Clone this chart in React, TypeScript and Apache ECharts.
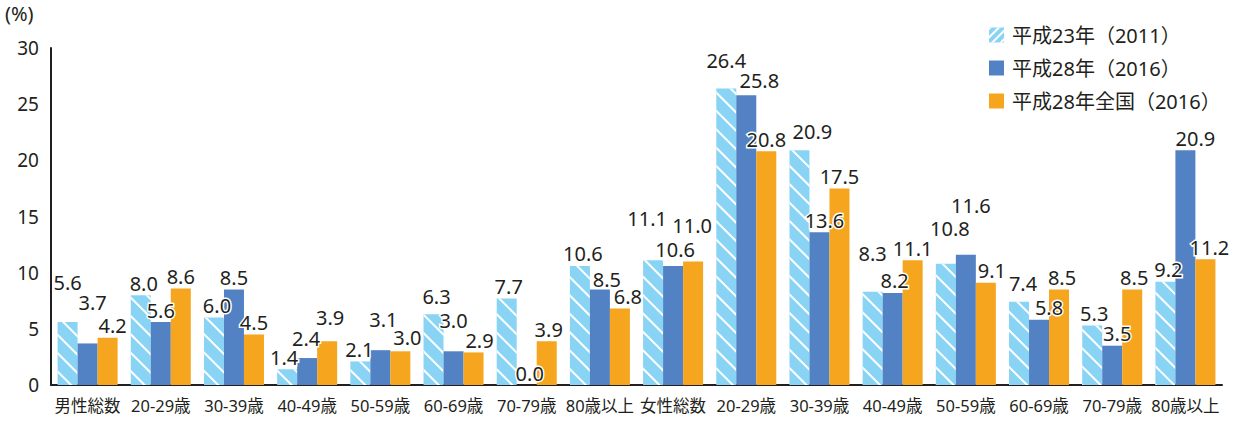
import React, { useEffect, useRef } from "react";
import * as echarts from "echarts";

const categories = [
  "男性総数", "20-29歳", "30-39歳", "40-49歳", "50-59歳", "60-69歳", "70-79歳", "80歳以上",
  "女性総数", "20-29歳", "30-39歳", "40-49歳", "50-59歳", "60-69歳", "70-79歳", "80歳以上",
];
const seriesNames = ["平成23年（2011）", "平成28年（2016）", "平成28年全国（2016）"];
const values2011 = [5.6, 8.0, 6.0, 1.4, 2.1, 6.3, 7.7, 10.6, 11.1, 26.4, 20.9, 8.3, 10.8, 7.4, 5.3, 9.2];
const values2016 = [3.7, 5.6, 8.5, 2.4, 3.1, 3.0, 0.0, 8.5, 10.6, 25.8, 13.6, 8.2, 11.6, 5.8, 3.5, 20.9];
const valuesNational = [4.2, 8.6, 4.5, 3.9, 3.0, 2.9, 3.9, 6.8, 11.0, 20.8, 17.5, 11.1, 9.1, 8.5, 8.5, 11.2];
const yTicks = [0, 5, 10, 15, 20, 25, 30];

// label nudges (style only), [dx, dy] per point, as placed in the reference
const labelNudge2011 = [[0, -28], [3, 0], [3, 0], [-3, 0], [-1, 0], [3, -6], [2, 0], [3, 0], [-6, -30], [0, -16], [13, -7], [0, -26], [4, -23], [4, -6], [2, 0], [3, 0]];
const labelNudge2016 = [[5, -29], [0, 0], [0, 0], [-1, -8], [3, -19], [0, -19], [3, 0], [7, 2], [2, -4], [13, -3], [5, 0], [2, 0], [5, -37], [10, 0], [5, 0], [10, 0]];
const labelNudgeNational = [[5, 0], [0, 0], [0, 0], [3, -12], [7, -2], [6, 0], [2, 0], [8, 0], [-1, -24], [0, 0], [0, 0], [0, 0], [6, 0], [3, 0], [2, 0], [4, 0]];

const FONT = "'Noto Sans', 'Noto Sans CJK JP', sans-serif";
const TEXT = "#231f20";
const colors = ["#89d4f5", "#5282c4", "#f6a51e"];

export default function App() {
  const ref = useRef<HTMLDivElement>(null);
  useEffect(() => {
    if (!ref.current) return;
    const chart = echarts.init(ref.current, undefined, { renderer: "svg" });
    const datasets = [values2011, values2016, valuesNational];
    const nudges = [labelNudge2011, labelNudge2016, labelNudgeNational];
    chart.setOption({
      animation: false,
      textStyle: { fontFamily: FONT },
      title: {
        text: "(%)",
        left: 3,
        top: 1,
        padding: 2,
        textStyle: { fontSize: 20, fontWeight: "normal", color: TEXT, fontFamily: FONT },
      },
      grid: { left: 51, right: 20, top: 48, bottom: 36, containLabel: false },
      legend: {
        orient: "vertical",
        left: 984,
        top: 20,
        itemWidth: 15,
        itemHeight: 15,
        itemGap: 13,
        icon: "rect",
        textStyle: { fontSize: 20, lineHeight: 20, color: TEXT, fontFamily: FONT, padding: [0, 0, 0, 3] },
        data: seriesNames.map((name, i) => ({
          name,
          itemStyle:
            i === 0
              ? {
                  color: colors[0],
                  decal: {
                    symbol: "rect",
                    color: "#ffffff",
                    dashArrayX: [1, 0],
                    dashArrayY: [1.2, 3.5],
                    rotation: -Math.PI / 4,
                    symbolSize: 1,
                  },
                }
              : undefined,
        })),
      },
      xAxis: {
        type: "category",
        data: categories,
        axisLine: { lineStyle: { color: TEXT, width: 2 } },
        axisTick: { show: false },
        axisLabel: { fontSize: 16.5, color: TEXT, margin: 12, fontFamily: FONT, interval: 0 },
      },
      yAxis: {
        type: "value",
        min: 0,
        max: 30,
        interval: 5,
        axisLine: { show: true, lineStyle: { color: TEXT, width: 2 } },
        axisTick: { show: false },
        splitLine: { show: false },
        axisLabel: {
          fontSize: 19,
          color: TEXT,
          margin: 12,
          fontFamily: FONT,
          formatter: (v: number) => (yTicks.includes(v) ? String(v) : ""),
        },
      },
      series: seriesNames.map((name, i) => ({
        name,
        type: "bar",
        barGap: "0%",
        barCategoryGap: "18%",
        data: datasets[i].map((v, j) => ({
          value: v,
          label: { offset: nudges[i][j] },
        })),
        itemStyle: {
          color: colors[i],
          ...(i === 0
            ? {
                decal: {
                  symbol: "rect",
                  color: "#ffffff",
                  dashArrayX: [1, 0],
                  dashArrayY: [1.3, 10.5],
                  rotation: Math.PI / 4,
                  symbolSize: 1,
                },
              }
            : {}),
        },
        label: {
          show: true,
          position: "top",
          distance: 3,
          fontSize: 20,
          lineHeight: 18,
          color: TEXT,
          fontFamily: FONT,
          textBorderColor: "#fff",
          textBorderWidth: 3,
          formatter: (p: any) => Number(p.value).toFixed(1),
        },
      })),
    });
    return () => chart.dispose();
  }, []);
  return <div ref={ref} style={{ width: 1242, height: 421, position: "absolute", left: 0, top: 0 }} />;
}
